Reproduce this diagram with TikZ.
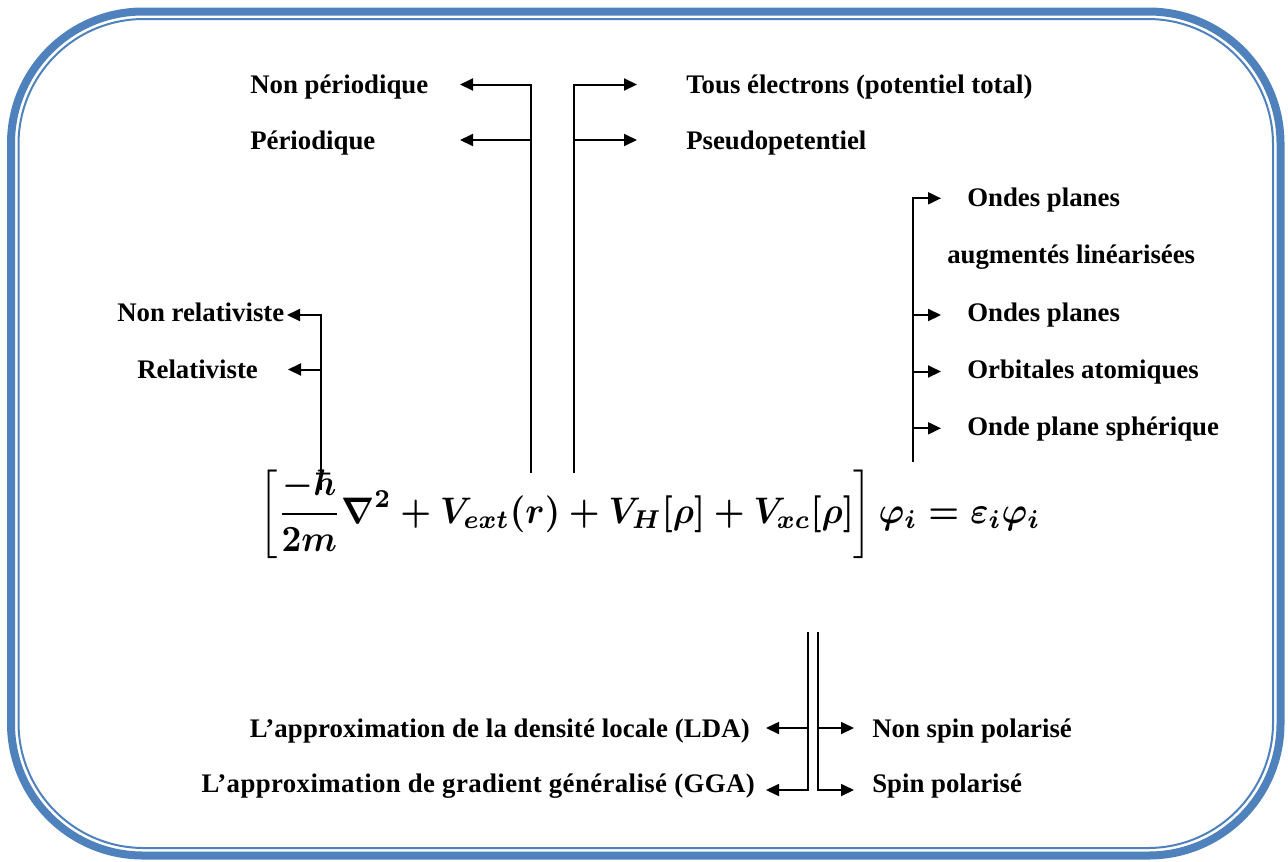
\documentclass[tikz,border=0pt]{standalone}
\usepackage[no-math]{fontspec}
\setmainfont{Liberation Serif}
\usepackage{amsmath,bm}
\usetikzlibrary{arrows.meta}
\definecolor{frameblue}{HTML}{4F81BD}
\begin{document}
\begin{tikzpicture}[x=0.75pt,y=-0.75pt,
  lbl/.style={anchor=base west, inner sep=0pt, font=\fontsize{20.1pt}{24pt}\selectfont\bfseries},
  conn/.style={line width=1.5pt, -{Triangle[length=9.75pt,width=9pt]}},
  thinconn/.style={line width=1.3pt, -{Triangle[length=9.75pt,width=9pt]}}]
\useasboundingbox (0,0) rectangle (1288,861);
% frame
\draw[frameblue, line width=6pt, rounded corners=99pt] (11,11.5) rectangle (1280.5,855.5);
\draw[frameblue, line width=1.5pt, rounded corners=94pt] (18.5,19) rectangle (1273,848);
% labels
\node[lbl] (np) at (250,93.3) {Non périodique};
\node[lbl] (per) at (250,149.3) {Périodique};
\node[lbl] (tous) at (686,93.3) {Tous électrons (potentiel total)};
\node[lbl] (pseudo) at (686,149.3) {Pseudopetentiel};
\node[lbl] (op1) at (967,206.5) {Ondes planes};
\node[lbl] (aug) at (947,263) {augmentés linéarisées};
\node[lbl] (op2) at (967,321.5) {Ondes planes};
\node[lbl] (orb) at (967,378) {Orbitales atomiques};
\node[lbl] (sph) at (967,435) {Onde plane sphérique};
\node[lbl] (nrel) at (117,321.5) {Non relativiste};
\node[lbl] (rel) at (137,378) {Relativiste};
\node[lbl, anchor=base east] (lda) at (750,737) {\addfontfeature{LetterSpace=0.5}L’approximation de la densité locale (LDA)};
\node[lbl, anchor=base east] (gga) at (755,792) {\addfontfeature{LetterSpace=1.5}L’approximation de gradient généralisé (GGA)};
\node[lbl] (nsp) at (872,737) {Non spin polarisé};
\node[lbl] (sp) at (872,792) {Spin polarisé};
% equation
\node[anchor=west, inner sep=0pt] (eq) at (259,514) {\scalebox{1}[1.07]{\resizebox{585.75pt}{!}{\boldmath$\displaystyle\left[\frac{-\hbar}{2m}\nabla^2+V_{ext}(r)+V_H[\rho]+V_{xc}[\rho]\right]\varphi_i=\varepsilon_i\varphi_i$}}};
% coordinates
\coordinate (tlb) at (531,473);
\coordinate (tl1) at (460,84.5);
\coordinate (tl2) at (460,140);
\coordinate (trb) at (574,473);
\coordinate (tr1) at (637,84.5);
\coordinate (tr2) at (637,140);
\coordinate (rb) at (913,462);
\coordinate (r1) at (941,198.3);
\coordinate (r2) at (941,315);
\coordinate (r3) at (941,371.5);
\coordinate (r4) at (941,428.3);
\coordinate (lb) at (321,490);
\coordinate (l1) at (287,315);
\coordinate (l2) at (288,369.5);
\coordinate (bl) at (808,632);
\coordinate (br) at (818,632);
\coordinate (b1) at (766,728);
\coordinate (b2) at (766,790);
\coordinate (b3) at (854,728);
\coordinate (b4) at (854,790);
% connectors
\draw[conn] (tlb) |- (tl1);
\draw[conn] (tlb |- tl2) -- (tl2);
\draw[conn] (trb) |- (tr1);
\draw[conn] (trb |- tr2) -- (tr2);
\draw[conn] (rb) |- (r1);
\draw[conn] (rb |- r2) -- (r2);
\draw[conn] (rb |- r3) -- (r3);
\draw[conn] (rb |- r4) -- (r4);
\draw[conn] (lb) |- (l1);
\draw[conn] (lb |- l2) -- (l2);
\draw[thinconn] (bl) |- (b2);
\draw[thinconn] (bl |- b1) -- (b1);
\draw[thinconn] (br) |- (b4);
\draw[thinconn] (br |- b3) -- (b3);
\end{tikzpicture}
\end{document}
